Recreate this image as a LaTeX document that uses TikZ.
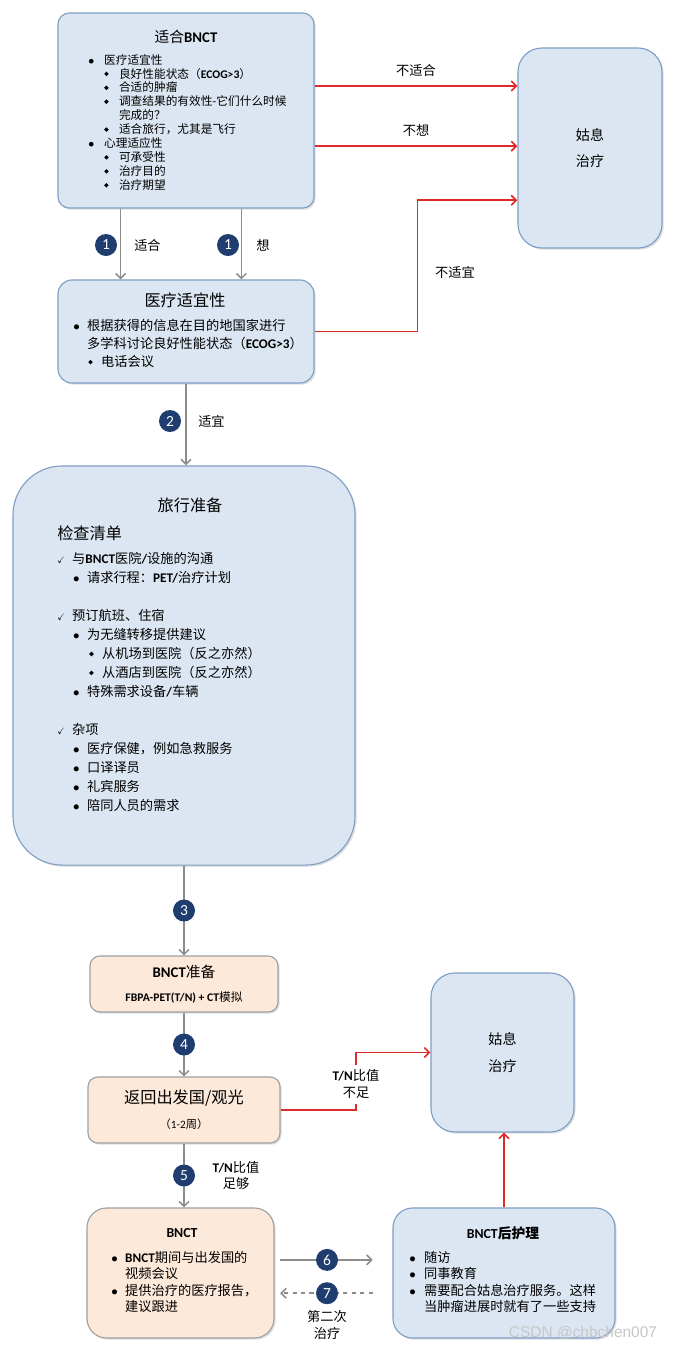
\documentclass[tikz,border=0pt]{standalone}
\usepackage{fontspec}
\usepackage{amssymb}
\usepackage{graphicx}
\setmainfont{Noto Sans CJK SC}
\newfontfamily\enfont{Carlito}
\newfontfamily\wmfont{Liberation Sans}
\usetikzlibrary{arrows.meta,positioning,calc,shadows}
\definecolor{boxblue}{RGB}{220,230,242}
\definecolor{edgeblue}{RGB}{127,158,196}
\definecolor{boxpeach}{RGB}{253,233,217}
\definecolor{edgegray}{RGB}{160,160,160}
\definecolor{badgeblue}{RGB}{31,61,110}
\definecolor{flowred}{RGB}{224,42,42}
\definecolor{flowgray}{RGB}{140,140,140}

\newcommand{\enb}[1]{{\enfont\bfseries #1}}
\newcommand{\lsbul}[2]{\hspace*{#1}\makebox[#2][l]{$\bullet$}}
\newcommand{\lsdia}[2]{\hspace*{#1}\makebox[#2][l]{\raisebox{0.3ex}{\rotatebox{45}{\rule{2.3pt}{2.3pt}}}}}
\newcommand{\lschk}[2]{\hspace*{#1}\makebox[#2][l]{\scalebox{0.7}{$\checkmark$}}}

\begin{document}
\begin{tikzpicture}[x=0.025cm, y=-0.025cm,
        bluebox/.style={draw=edgeblue, thick, fill=boxblue,
                        drop shadow={opacity=0.25, shadow xshift=1.2pt, shadow yshift=-1.2pt}},
        peachbox/.style={draw=edgegray, thick, fill=boxpeach,
                         drop shadow={opacity=0.25, shadow xshift=1.2pt, shadow yshift=-1.2pt}},
        boxtitle/.style={font=\fontsize{11.5}{14}\selectfont},
        boxlist/.style={anchor=north west, inner sep=0pt, align=left},
        badge/.style={circle, fill=badgeblue, text=white, minimum size=0.55cm,
                      inner sep=0pt, font=\enfont\fontsize{11}{11}\selectfont},
        lbl/.style={font=\fontsize{9.4}{12}\selectfont},
        grayarr/.style={draw=flowgray, line width=1.1pt, -{Straight Barb[length=3.5pt,width=7pt]}},
        redarr/.style={draw=flowred, line width=1.2pt, -{Straight Barb[length=3.5pt,width=7pt]}}
    ]
    \useasboundingbox (0,0) rectangle (673,1350);

    %% -- suitable for BNCT --------------------------------------------------
    \node[bluebox, rounded corners=8pt, minimum width=6.4cm, minimum height=4.875cm]
        (suit) at (186,110.5) {};
    \node[font=\fontsize{10.5}{12}\selectfont] (suit-t) at (186,37) {适合\enb{BNCT}};
    \node[boxlist, font=\fontsize{8.3}{9.9}\selectfont] (suit-l) at (88,54) {%
        \lsbul{0pt}{11.3pt}医疗适宜性\\
        \lsdia{11.3pt}{10.6pt}良好性能状态（\enb{ECOG>3}）\\
        \lsdia{11.3pt}{10.6pt}合适的肿瘤\\
        \lsdia{11.3pt}{10.6pt}调查结果的有效性-它们什么时候\\
        \hspace*{21.9pt}完成的？\\
        \lsdia{11.3pt}{10.6pt}适合旅行，尤其是飞行\\
        \lsbul{0pt}{11.3pt}心理适应性\\
        \lsdia{11.3pt}{10.6pt}可承受性\\
        \lsdia{11.3pt}{10.6pt}治疗目的\\
        \lsdia{11.3pt}{10.6pt}治疗期望};

    %% -- palliative care (top) -----------------------------------------------
    \node[bluebox, rounded corners=17pt, minimum width=3.6cm, minimum height=5cm,
          align=center, font=\fontsize{10}{19}\selectfont]
        (palli) at (590,148) {姑息\\治疗};

    %% -- medical suitability -------------------------------------------------
    \node[bluebox, rounded corners=10pt, minimum width=6.4cm, minimum height=2.575cm]
        (med) at (186,331.5) {};
    \node[boxtitle] (med-t) at (185,300) {医疗适宜性};
    \node[boxlist, font=\fontsize{9.4}{12.8}\selectfont] (med-l) at (73,319) {%
        \lsbul{0pt}{9.9pt}根据获得的信息在目的地国家进行\\
        \hspace*{9.9pt}多学科讨论良好性能状态（\enb{ECOG>3}）\\
        \lsdia{10.6pt}{9.2pt}电话会议};

    %% -- travel preparation --------------------------------------------------
    \node[bluebox, rounded corners=35pt, minimum width=8.55cm, minimum height=9.975cm]
        (trip) at (184,665.5) {};
    \node[boxtitle] (trip-t) at (190,505) {旅行准备};
    \node[boxtitle, anchor=west, inner sep=0pt] (trip-c) at (57,533) {检查清单};
    \node[boxlist, font=\fontsize{9.4}{13.5}\selectfont] (trip-l) at (57,552) {%
        \lschk{0pt}{10.6pt}与\enb{BNCT}医院\enb{/}设施的沟通\\
        \lsbul{11.3pt}{9.9pt}请求行程：\enb{PET/}治疗计划\\[13.5pt]
        \lschk{0pt}{10.6pt}预订航班、住宿\\
        \lsbul{11.3pt}{9.9pt}为无缝转移提供建议\\
        \lsdia{22.7pt}{9.2pt}从机场到医院（反之亦然）\\
        \lsdia{22.7pt}{9.2pt}从酒店到医院（反之亦然）\\
        \lsbul{11.3pt}{9.9pt}特殊需求设备\enb{/}车辆\\[13.5pt]
        \lschk{0pt}{10.6pt}杂项\\
        \lsbul{11.3pt}{9.9pt}医疗保健，例如急救服务\\
        \lsbul{11.3pt}{9.9pt}口译译员\\
        \lsbul{11.3pt}{9.9pt}礼宾服务\\
        \lsbul{11.3pt}{9.9pt}陪同人员的需求};

    %% -- BNCT preparation / return home --------------------------------------
    \node[peachbox, rounded corners=7pt, minimum width=4.7cm, minimum height=1.4cm,
          align=center, font=\fontsize{10.5}{17}\selectfont]
        (prep) at (184,984) {\enb{BNCT}准备\\{\fontsize{8.3}{10}\selectfont\enb{FBPA-PET(T/N) + CT}模拟}};
    \node[peachbox, rounded corners=7pt, minimum width=4.8cm, minimum height=1.65cm,
          align=center, font=\fontsize{11.5}{17.7}\selectfont]
        (home) at (184,1110) {返回出发国/观光\\{\fontsize{8}{10}\selectfont （{\enfont 1-2}周）}};

    %% -- palliative care (bottom) --------------------------------------------
    \node[bluebox, rounded corners=17pt, minimum width=3.575cm, minimum height=3.975cm,
          align=center, font=\fontsize{10}{19}\selectfont]
        (palli2) at (502.5,1052.5) {姑息\\治疗};

    %% -- BNCT and aftercare --------------------------------------------------
    \node[peachbox, rounded corners=14pt, minimum width=4.675cm, minimum height=3.25cm]
        (bnct) at (180.5,1273) {};
    \node[font=\fontsize{9.8}{12}\selectfont] (bnct-t) at (182,1233) {\enb{BNCT}};
    \node[boxlist, font=\fontsize{9.4}{11.6}\selectfont] (bnct-l) at (111,1251) {%
        \lsbul{0pt}{9.9pt}\enb{BNCT}期间与出发国的\\
        \hspace*{9.9pt}视频会议\\
        \lsbul{0pt}{9.9pt}提供治疗的医疗报告，\\
        \hspace*{9.9pt}建议跟进};

    \node[bluebox, rounded corners=14pt, minimum width=5.55cm, minimum height=3.25cm]
        (after) at (504,1273) {};
    \node[font=\fontsize{9.8}{12}\selectfont\bfseries] (after-t) at (503,1233) {\enb{BNCT}后护理};
    \node[boxlist, font=\fontsize{9.4}{11.6}\selectfont] (after-l) at (409,1251) {%
        \lsbul{0pt}{10.6pt}随访\\
        \lsbul{0pt}{10.6pt}同事教育\\
        \lsbul{0pt}{10.6pt}需要配合姑息治疗服务。这样\\
        \hspace*{10.6pt}当肿瘤进展时就有了一些支持};

    %% -- red exits to palliative care -----------------------------------------
    \draw[redarr] ($(suit.north east)!0.375!(suit.south east)$) coordinate (r1)
        -- node[lbl, above=3pt] (no-fit) {不适合} (r1 -| palli.west);
    \draw[redarr] ($(suit.north east)!0.682!(suit.south east)$) coordinate (r2)
        -- node[lbl, above=3pt] (no-want) {不想} (r2 -| palli.west);
    \draw[redarr] (med.east) -- ++(103,0) |- ($(palli.north west)!0.76!(palli.south west)$);
    \node[lbl] (no-med) at (455,272) {不适宜};

    \node[lbl, align=center] (tn-low) at (356,1084) {\enb{T/N}比值\\不足};
    \draw[flowred, line width=1.2pt] (home.east) -| (tn-low.south);
    \draw[redarr] (tn-low.north) |- (palli2.west);
    \draw[redarr] (after.north) -- (after.north |- palli2.south);

    %% -- gray steps ----------------------------------------------------------
    \draw[grayarr] ($(suit.south west)!0.246!(suit.south east)$) coordinate (g1) -- (g1 |- med.north);
    \draw[grayarr] ($(suit.south west)!0.715!(suit.south east)$) coordinate (g2) -- (g2 |- med.north);
    \node[badge] (b1a) at (106,245) {1};
    \node[lbl, right=0.3cm of b1a] (yes-fit) {适合};
    \node[badge] (b1b) at (228,245) {1};
    \node[lbl, right=0.3cm of b1b] (yes-want) {想};

    \draw[grayarr] (med.south) -- (med.south |- trip.north);
    \node[badge] (b2) at (170,421) {2};
    \node[lbl, right=0.3cm of b2] (ok-med) {适宜};

    \draw[grayarr] (trip.south) -- node[badge] (b3) {3} (prep.north);
    \draw[grayarr] (prep.south) -- node[badge] (b4) {4} (home.north);
    \draw[grayarr] (home.south) -- node[badge] (b5) {5} (home.south |- bnct.north);
    \node[lbl, align=center, right=0.3cm of b5] (tn-ok) {\enb{T/N}比值\\足够};

    \draw[grayarr, shorten <=4pt, shorten >=14pt]
        ($(bnct.north east)!0.4!(bnct.south east)$) coordinate (s6)
        -- node[badge, pos=0.445] (b6) {6} (s6 -| after.west);
    \draw[grayarr, dashed, shorten <=14pt, shorten >=4pt]
        ($(after.north west)!0.654!(after.south west)$) coordinate (s7)
        -- node[badge, pos=0.555, solid] (b7) {7} (s7 -| bnct.east);
    \node[lbl, align=center, below=0pt of b7] (second) {第二次\\治疗};

    \node[font=\wmfont\fontsize{11}{11}\selectfont, text=gray!45] (mark) at (583,1333) {CSDN @chbchen007};

\end{tikzpicture}
\end{document}
